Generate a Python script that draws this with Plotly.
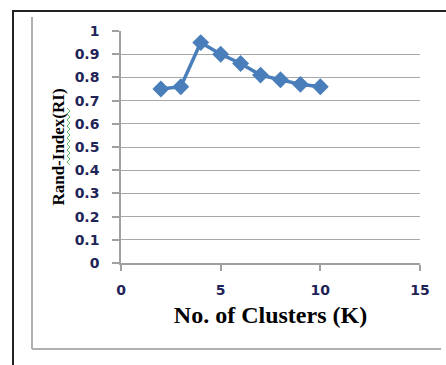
import plotly.graph_objects as go

# Number of clusters K and the Rand index obtained for each
clusters = [2, 3, 4, 5, 6, 7, 8, 9, 10]
rand_index = [0.75, 0.76, 0.95, 0.90, 0.86, 0.81, 0.79, 0.77, 0.76]

x_ticks = [0, 5, 10, 15]
y_ticks = [0, 0.1, 0.2, 0.3, 0.4, 0.5, 0.6, 0.7, 0.8, 0.9, 1]
y_tick_text = ["0", "0.1", "0.2", "0.3", "0.4", "0.5", "0.6", "0.7", "0.8", "0.9", "1"]

W, H = 446, 365
L, R, T, B = 121, 26, 31, 102
pw, ph = W - L - R, H - T - B


def px(x):
    return (x - L) / pw


def py(y):
    return (H - B - y) / ph


# wavy spell-check underline beside the y-axis title
pts = []
yy, k = 108, 0
while yy <= 167:
    pts.append((px(67 if k % 2 == 0 else 70), py(yy)))
    yy += 3
    k += 1
squiggle = "M " + " L ".join(f"{a:.5f},{b:.5f}" for a, b in pts)

fig = go.Figure()
fig.add_trace(go.Scatter(
    x=clusters, y=rand_index, mode="lines+markers",
    line=dict(color="#4a7ebb", width=3.5),
    marker=dict(symbol="diamond", size=13, color="#4a7ebb"),
    showlegend=False,
))

tick_font = dict(family="DejaVu Sans", size=14, color="#1f2458", weight="bold")

fig.update_layout(
    width=W, height=H,
    margin=dict(l=L, r=R, t=T, b=B),
    paper_bgcolor="white", plot_bgcolor="white",
    xaxis=dict(
        range=[0, 15], tickvals=x_ticks, ticktext=[str(v) for v in x_ticks],
        showgrid=False, zeroline=False, showline=True, linecolor="#a0a0a0", linewidth=1.5,
        ticks="outside", ticklen=6, tickcolor="#a0a0a0", tickwidth=1.5,
        tickfont=tick_font, ticklabelstandoff=7,
        title=dict(text="No. of Clusters (K)",
                   font=dict(family="Liberation Serif", size=24, color="black", weight="bold"),
                   standoff=10),
    ),
    yaxis=dict(
        range=[0, 1], tickvals=y_ticks, ticktext=y_tick_text,
        showgrid=True, gridcolor="#a8a8a8", gridwidth=1.2,
        zeroline=False, showline=True, linecolor="#a0a0a0", linewidth=1.5,
        ticks="outside", ticklen=7, tickcolor="#a0a0a0", tickwidth=1.5,
        tickfont=tick_font, ticklabelstandoff=10,
        title=dict(text="Rand-Index(RI)",
                   font=dict(family="Liberation Serif", size=17, color="black", weight="bold"),
                   standoff=6),
    ),
    shapes=[
        # outer black frame (left and top edges)
        dict(type="line", xref="paper", yref="paper", x0=px(13), x1=px(13), y0=py(10), y1=py(365),
             line=dict(color="#222222", width=2)),
        dict(type="line", xref="paper", yref="paper", x0=px(13), x1=px(446), y0=py(11), y1=py(11),
             line=dict(color="#222222", width=2)),
        # inner grey chart-area frame
        dict(type="line", xref="paper", yref="paper", x0=px(32), x1=px(32), y0=py(17), y1=py(349),
             line=dict(color="#b0b0b0", width=2)),
        dict(type="line", xref="paper", yref="paper", x0=px(32), x1=px(441), y0=py(349), y1=py(349),
             line=dict(color="#b0b0b0", width=2)),
        dict(type="path", xref="paper", yref="paper", path=squiggle,
             line=dict(color="#5cb85c", width=1)),
    ],
)

fig.write_html("out.html")
